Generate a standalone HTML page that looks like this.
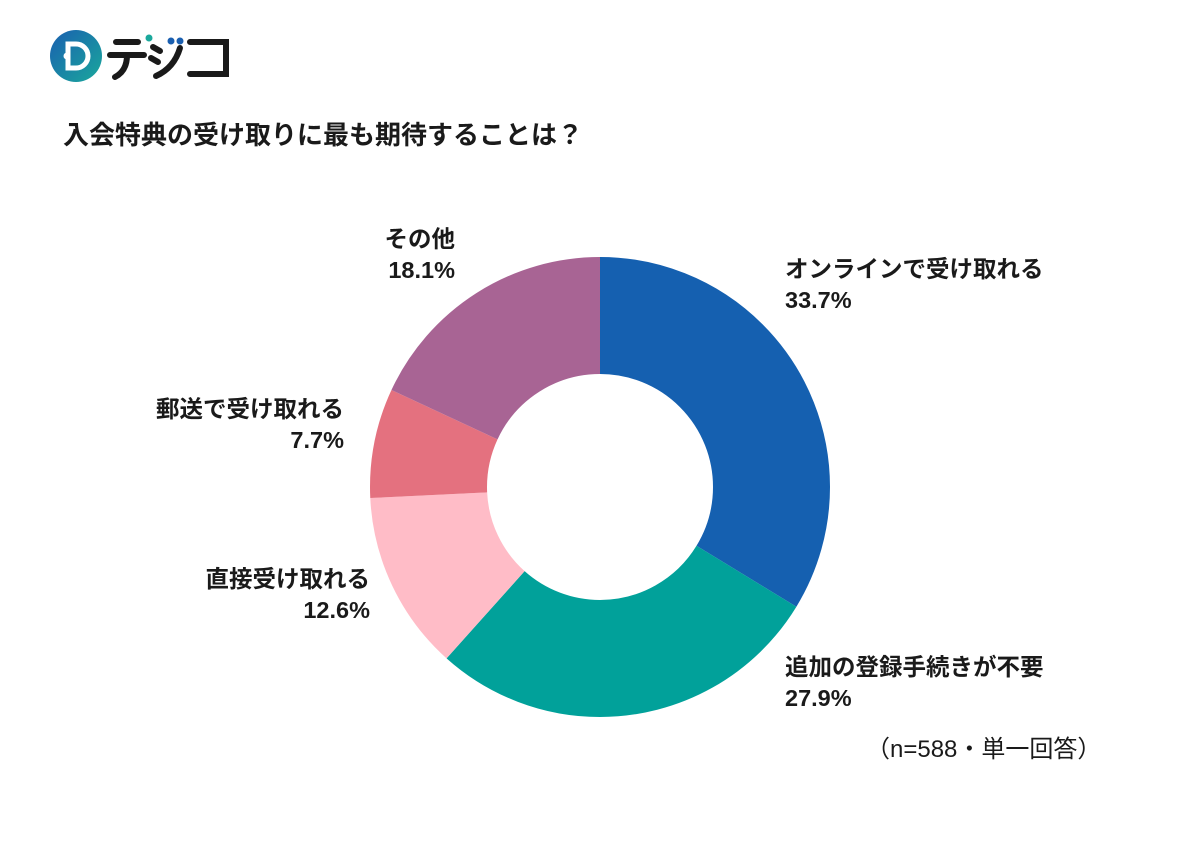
<!DOCTYPE html>
<html><head><meta charset="utf-8"><style>
body{margin:0;width:1200px;height:850px;background:#fff;font-family:"Liberation Sans","Noto Sans CJK JP",sans-serif;position:relative;overflow:hidden}
.t{position:absolute;font-weight:bold;font-size:23.5px;color:#1a1a1a;line-height:31px;white-space:nowrap}
.r{text-align:right}
</style></head><body>
<svg width="1200" height="850" style="position:absolute;left:0;top:0">
<defs><linearGradient id="g" x1="0" y1="0" x2="1" y2="1"><stop offset="0" stop-color="#1a5fb0"/><stop offset="1" stop-color="#1aa89c"/></linearGradient></defs>
<circle cx="76" cy="56" r="26" fill="url(#g)"/>
<path d="M68 44 h8 a12 12 0 0 1 0 24 h-8 z" fill="none" stroke="#fff" stroke-width="5"/>
<circle cx="67" cy="56" r="3.5" fill="#fff"/>
<g stroke="#1a1a1a" stroke-width="6" fill="none" stroke-linecap="round">
<path d="M116 42 h22 M110 55 h34 M127 55 q0 16 -12 22"/>
<path d="M153 47 l7 4 M151 58 l7 4 M156 76 q18 -8 24 -28"/>
<path d="M190 42 h36 v32 h-36"/>
</g>
<circle cx="149" cy="38" r="3.5" fill="#1aa89c"/><circle cx="171" cy="41" r="3.5" fill="#1a5fb0"/><circle cx="180" cy="41" r="3.5" fill="#1a5fb0"/>
<g transform="rotate(-90 600 487)" fill="none" stroke-width="117">
<circle cx="600" cy="487" r="171.5" stroke="#1560b0" stroke-dasharray="363.14 2000" stroke-dashoffset="0"/>
<circle cx="600" cy="487" r="171.5" stroke="#01a19a" stroke-dasharray="300.64 2000" stroke-dashoffset="-363.14"/>
<circle cx="600" cy="487" r="171.5" stroke="#ffbcc7" stroke-dasharray="135.77 2000" stroke-dashoffset="-663.78"/>
<circle cx="600" cy="487" r="171.5" stroke="#e4717f" stroke-dasharray="82.98 2000" stroke-dashoffset="-799.55"/>
<circle cx="600" cy="487" r="171.5" stroke="#a86494" stroke-dasharray="195.1 2000" stroke-dashoffset="-882.53"/>
</g>
</svg>
<div class="t" style="left:63px;top:119px;font-size:26px;line-height:32px">入会特典の受け取りに最も期待することは？</div>
<div class="t" style="left:785px;top:254px">オンラインで受け取れる<br>33.7%</div>
<div class="t" style="left:785px;top:652px">追加の登録手続きが不要<br>27.9%</div>
<div class="t r" style="right:830px;top:564px">直接受け取れる<br>12.6%</div>
<div class="t r" style="right:856px;top:394px">郵送で受け取れる<br>7.7%</div>
<div class="t r" style="right:745px;top:224px">その他<br>18.1%</div>
<div class="t" style="left:866px;top:734px;font-weight:normal;font-size:24px">（n=588・単一回答）</div>
</body></html>
